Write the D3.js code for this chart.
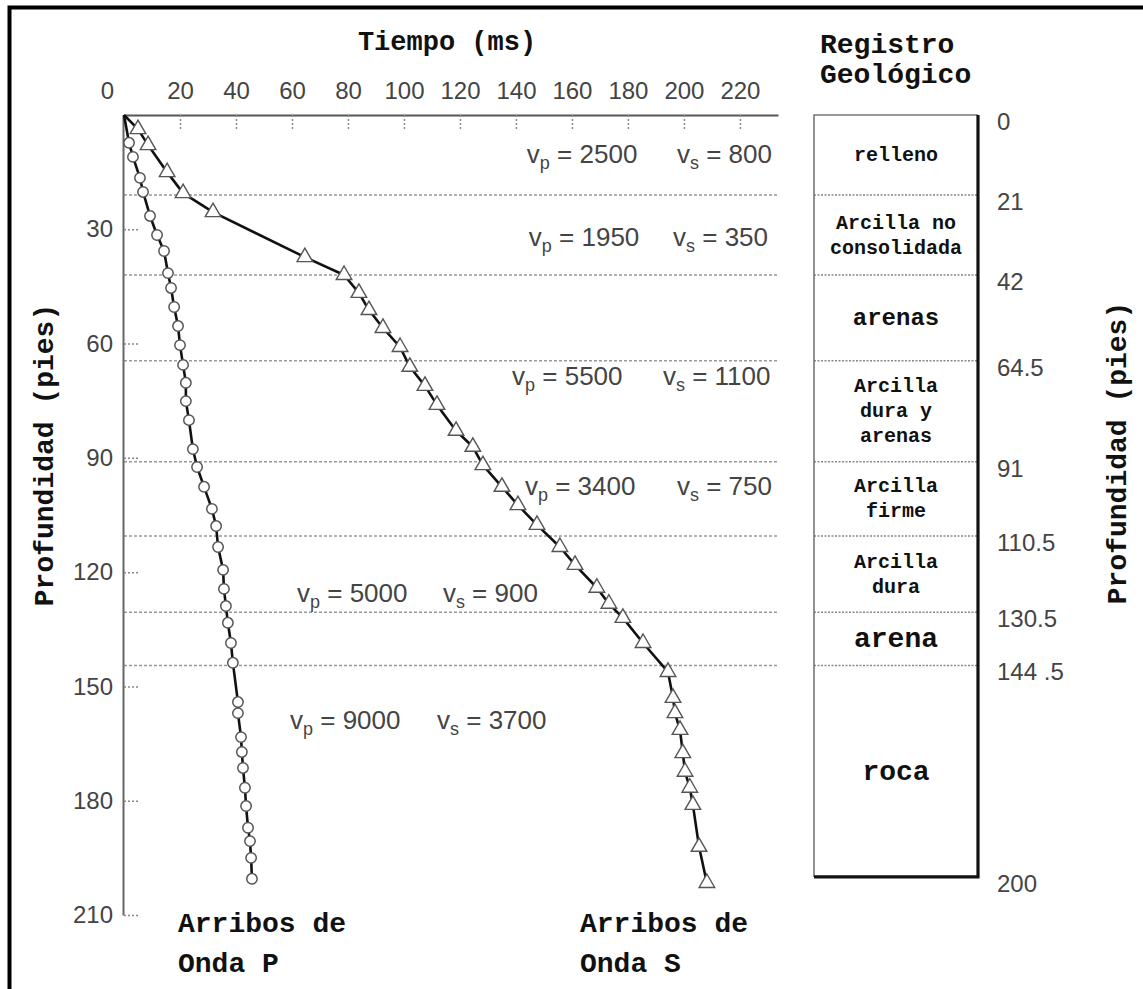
<!DOCTYPE html>
<html>
<head>
<meta charset="utf-8">
<script src="https://cdn.jsdelivr.net/npm/d3@7"></script>
<style>
  html, body { margin: 0; padding: 0; background: #fff; }
  svg { display: block; }
</style>
</head>
<body>
<svg id="chart" width="1143" height="989"></svg>
<script>
// Arrival times (ms) against depth (ft) for the P and S waves
const pTime  = [0, 1.8, 3.2, 5.7, 6.8, 9.3, 11.8, 14.3, 15.7, 16.8, 17.9, 19.3, 20.0, 21.1, 22.1, 22.1, 23.2, 24.6, 26.1, 28.6, 31.4, 32.9, 33.6, 35.4, 35.7, 36.4, 37.1, 38.2, 38.9, 40.7, 40.7, 41.8, 42.1, 42.5, 43.2, 43.6, 44.3, 45.0, 45.4, 45.7];
const pDepth = [0, 7.3, 11.0, 16.5, 20.2, 26.5, 31.5, 35.7, 41.5, 45.4, 50.4, 55.4, 60.4, 65.6, 70.3, 75.1, 80.1, 87.7, 92.4, 97.6, 103.4, 107.9, 113.4, 119.4, 124.4, 128.9, 133.3, 138.6, 143.8, 154.1, 157.0, 163.3, 167.2, 171.4, 176.6, 181.4, 187.1, 190.6, 195.0, 200.5];

const sTime  = [0, 5.0, 8.6, 15.4, 21.1, 31.8, 64.6, 78.6, 83.9, 87.5, 92.5, 98.6, 102.1, 107.5, 111.8, 118.6, 124.6, 128.2, 135.0, 140.7, 147.5, 155.7, 161.1, 168.9, 173.2, 178.2, 185.4, 194.3, 196.1, 196.8, 198.6, 199.6, 200.4, 202.1, 203.2, 205.4, 208.2];
const sDepth = [0, 3.7, 7.9, 15.0, 20.5, 25.5, 37.3, 42.0, 46.7, 51.2, 55.9, 60.9, 66.1, 71.1, 76.1, 82.9, 87.1, 91.9, 97.6, 102.4, 107.6, 113.4, 118.1, 124.1, 128.3, 132.0, 138.6, 146.2, 153.0, 157.0, 161.4, 167.5, 172.4, 176.6, 181.1, 192.1, 201.6];

// Axis ticks
const timeTicks  = [0, 20, 40, 60, 80, 100, 120, 140, 160, 180, 200, 220];
const depthTicks = [30, 60, 90, 120, 150, 180, 210];

// Geological log: layer boundaries (ft), their labels and layer names
const boundaryDepths = [0, 21, 42, 64.5, 91, 110.5, 130.5, 144.5, 200];
const boundaryLabels = ["0", "21", "42", "64.5", "91", "110.5", "130.5", "144 .5", "200"];
const layerNames = [
  ["relleno"],
  ["Arcilla no", "consolidada"],
  ["arenas"],
  ["Arcilla", "dura y", "arenas"],
  ["Arcilla", "firme"],
  ["Arcilla", "dura"],
  ["arena"],
  ["roca"]
];

// Interval velocities (ft/s)
const vpValues = [2500, 1950, 5500, 3400, 5000, 9000];
const vsValues = [800, 350, 1100, 750, 900, 3700];

// ---------------------------------------------------------------
const svg = d3.select("#chart");
const MONO = "'Liberation Mono', 'Courier New', monospace";
const SANS = "'Liberation Sans', Arial, Helvetica, sans-serif";

const x = d3.scaleLinear().domain([0, 233.6]).range([124, 778]);
const y = d3.scaleLinear().domain([0, 210]).range([115, 915]);

// outer frame (top and left edges visible)
svg.append("rect")
  .attr("x", 9.5).attr("y", 7.5).attr("width", 1300).attr("height", 1300)
  .attr("fill", "none").attr("stroke", "#000").attr("stroke-width", 4);

// layer boundaries across the plot
const inner = boundaryDepths.slice(1, -1);
svg.append("g").selectAll("line").data(inner).join("line")
  .attr("x1", x(0)).attr("x2", x.range()[1])
  .attr("y1", d => y(d)).attr("y2", d => y(d))
  .attr("stroke", "#999").attr("stroke-width", 1.5)
  .attr("stroke-dasharray", "3,2");

// top time axis
const xAxis = svg.append("g").attr("transform", `translate(0,${y(0)})`)
  .call(d3.axisTop(x).tickValues(timeTicks).tickSize(0).tickPadding(16)
    .tickFormat(d3.format("d")));
xAxis.select(".domain").attr("stroke", "#555").attr("stroke-width", 2);
xAxis.selectAll(".tick text")
  .attr("font-family", SANS).attr("font-size", 24).attr("fill", "#444")
  .attr("dx", d => d === 0 ? -17 : 0);
xAxis.selectAll(".tick").filter(d => d > 0).append("line")
  .attr("y1", 0).attr("y2", 16)
  .attr("stroke", "#888").attr("stroke-width", 1.5).attr("stroke-dasharray", "2,2");

// left depth axis
const yAxis = svg.append("g").attr("transform", `translate(${x(0) - 1},0)`)
  .call(d3.axisLeft(y).tickValues(depthTicks).tickSize(0).tickPadding(10)
    .tickFormat(d3.format("d")));
yAxis.select(".domain").attr("stroke", "#666").attr("stroke-width", 2);
yAxis.selectAll(".tick text")
  .attr("font-family", SANS).attr("font-size", 24).attr("fill", "#444");
yAxis.selectAll(".tick").append("line")
  .attr("x1", 1).attr("x2", 16)
  .attr("stroke", "#888").attr("stroke-width", 1.5).attr("stroke-dasharray", "2,2");

// arrival curves
const pPts = pTime.map((t, i) => [t, pDepth[i]]);
const sPts = sTime.map((t, i) => [t, sDepth[i]]);
const line = d3.line().x(d => x(d[0])).y(d => y(d[1]));

[pPts, sPts].forEach(pts => {
  svg.append("path").datum(pts).attr("d", line)
    .attr("fill", "none").attr("stroke", "#111").attr("stroke-width", 2.6)
    .attr("stroke-linejoin", "round");
});

svg.append("g").selectAll("circle").data(pPts.slice(1)).join("circle")
  .attr("cx", d => x(d[0])).attr("cy", d => y(d[1])).attr("r", 5.2)
  .attr("fill", "#fff").attr("stroke", "#555").attr("stroke-width", 1.5);

const tri = d3.symbol().type(d3.symbolTriangle).size(105);
svg.append("g").selectAll("path").data(sPts.slice(1)).join("path")
  .attr("d", tri)
  .attr("transform", d => `translate(${x(d[0])},${y(d[1])})`)
  .attr("fill", "#fff").attr("stroke", "#555").attr("stroke-width", 1.4);

// velocity annotations, placed in (ms, ft)
const vpAt = [[143.9, 12.6], [144.6, 34.4], [138.6, 70.9], [143.2, 99.7], [61.8, 127.8], [59.3, 161.2]];
const vsAt = [197.5, 196.1, 192.5, 197.5, 113.9, 111.8];

function velLabel(sub, val, t, d) {
  const txt = svg.append("text")
    .attr("x", x(t)).attr("y", y(d))
    .attr("font-family", SANS).attr("font-size", 26).attr("fill", "#444");
  txt.append("tspan").text("v");
  txt.append("tspan").attr("font-size", 18).attr("dy", 6).text(sub);
  txt.append("tspan").attr("dy", -6).text(" = " + val);
}
vpValues.forEach((v, i) => {
  velLabel("p", v, vpAt[i][0], vpAt[i][1]);
  velLabel("s", vsValues[i], vsAt[i], vpAt[i][1]);
});

// axis titles
svg.append("text").attr("x", 447).attr("y", 50).attr("text-anchor", "middle")
  .attr("font-family", MONO).attr("font-weight", "bold").attr("font-size", 27)
  .attr("fill", "#111").text("Tiempo (ms)");

svg.append("text").attr("transform", "translate(53,455) rotate(-90)")
  .attr("text-anchor", "middle")
  .attr("font-family", MONO).attr("font-weight", "bold").attr("font-size", 28)
  .attr("fill", "#111").text("Profundidad (pies)");

svg.append("text").attr("transform", "translate(1126,453) rotate(-90)")
  .attr("text-anchor", "middle")
  .attr("font-family", MONO).attr("font-weight", "bold").attr("font-size", 28)
  .attr("fill", "#111").text("Profundidad (pies)");

// series captions
[["Arribos de", "Onda P"], ["Arribos de", "Onda S"]].forEach(([a, b], i) => {
  const tx = i === 0 ? 178 : 580;
  const g = svg.append("text").attr("x", tx).attr("y", 932)
    .attr("font-family", MONO).attr("font-weight", "bold").attr("font-size", 28)
    .attr("fill", "#111");
  g.append("tspan").attr("x", tx).text(a);
  g.append("tspan").attr("x", tx).attr("dy", 40).text(b);
});

// geological log column
const colL = 814, colR = 978, colMid = (colL + colR) / 2;
const colTop = y(0), colBot = y(boundaryDepths[boundaryDepths.length - 1]);

svg.append("text").attr("x", 820).attr("y", 53)
  .attr("font-family", MONO).attr("font-weight", "bold").attr("font-size", 28)
  .attr("fill", "#111").text("Registro");
svg.append("text").attr("x", 820).attr("y", 83)
  .attr("font-family", MONO).attr("font-weight", "bold").attr("font-size", 28)
  .attr("fill", "#111").text("Geológico");

svg.append("g").selectAll("line").data(inner).join("line")
  .attr("x1", colL).attr("x2", colR)
  .attr("y1", d => y(d)).attr("y2", d => y(d))
  .attr("stroke", "#888").attr("stroke-width", 1.5).attr("stroke-dasharray", "2,1.5");

svg.append("path")
  .attr("d", `M${colL},${colBot} L${colL},${colTop} L${colR},${colTop}`)
  .attr("fill", "none").attr("stroke", "#777").attr("stroke-width", 1.6);
svg.append("path")
  .attr("d", `M${colR},${colTop} L${colR},${colBot} L${colL},${colBot}`)
  .attr("fill", "none").attr("stroke", "#111").attr("stroke-width", 3.2);

svg.append("g").selectAll("text").data(boundaryDepths).join("text")
  .attr("x", 997).attr("y", d => y(d) + 15)
  .attr("font-family", SANS).attr("font-size", 24).attr("fill", "#444")
  .text((d, i) => boundaryLabels[i]);

const nameSize = [20, 20, 24, 20, 20, 20, 28, 28];
layerNames.forEach((lines, i) => {
  const mid = y((boundaryDepths[i] + boundaryDepths[i + 1]) / 2);
  const fs = nameSize[i];
  const lh = 25;
  const y0 = mid - (lines.length - 1) * lh / 2 + fs * 0.3;
  const t = svg.append("text").attr("text-anchor", "middle")
    .attr("font-family", MONO).attr("font-weight", "bold").attr("font-size", fs)
    .attr("fill", "#111");
  lines.forEach((s, k) => {
    t.append("tspan").attr("x", colMid).attr("y", y0 + k * lh).text(s);
  });
});
</script>
</body>
</html>
